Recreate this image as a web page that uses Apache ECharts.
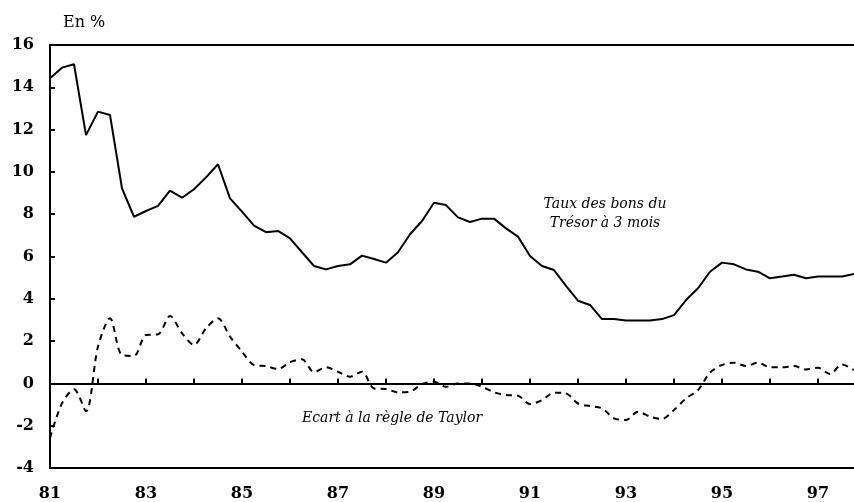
<!DOCTYPE html>
<html>
<head>
<meta charset="utf-8">
<script src="https://cdn.jsdelivr.net/npm/echarts@6/dist/echarts.min.js"></script>
<style>
  html, body { margin: 0; padding: 0; background: #fff; }
  #chartTaylor { width: 854px; height: 502px; }
</style>
</head>
<body>
<div id="chartTaylor"></div>
<script>
// years shown on the axis (one category per quarter)
var years = ['81', '82', '83', '84', '85', '86', '87', '88', '89', '90', '91', '92', '93', '94', '95', '96', '97']
var quarters = []
years.forEach(function (y) {
  for (var q = 1; q <= 4; q++) quarters.push(y + 'T' + q)
})

// taux des bons du Tresor a 3 mois (quarterly, %)
var tauxBons = [
  14.43, 14.93, 15.09, 11.74, 12.85, 12.69, 9.22, 7.88,
  8.15, 8.39, 9.11, 8.78, 9.18, 9.74, 10.36, 8.75,
  8.12, 7.46, 7.15, 7.21, 6.86, 6.20, 5.55, 5.39,
  5.55, 5.63, 6.04, 5.88, 5.71, 6.20, 7.05, 7.68,
  8.54, 8.43, 7.85, 7.63, 7.79, 7.79, 7.33, 6.94,
  6.02, 5.55, 5.36, 4.61, 3.91, 3.71, 3.04, 3.04,
  2.97, 2.97, 2.97, 3.04, 3.23, 3.94, 4.50, 5.28,
  5.71, 5.63, 5.39, 5.28, 4.97, 5.05, 5.14, 4.97,
  5.05, 5.05, 5.05, 5.17
]

// ecart a la regle de Taylor (quarterly, points)
var ecartTaylor = [
  -2.58, -0.94, -0.28, -1.31, 1.74, 3.08, 1.34, 1.30,
  2.29, 2.32, 3.19, 2.37, 1.82, 2.60, 3.08, 2.21,
  1.50, 0.87, 0.82, 0.68, 1.00, 1.14, 0.53, 0.76,
  0.55, 0.32, 0.55, -0.24, -0.27, -0.42, -0.39, -0.03,
  0.08, -0.16, 0.00, 0.00, -0.16, -0.42, -0.55, -0.58,
  -0.98, -0.79, -0.44, -0.47, -0.95, -1.07, -1.18, -1.65,
  -1.73, -1.34, -1.57, -1.68, -1.26, -0.71, -0.32, 0.51,
  0.87, 0.98, 0.82, 0.98, 0.76, 0.76, 0.82, 0.66,
  0.74, 0.44, 0.90, 0.63
]

var serif = 'DejaVu Serif'

var chartEl = document.getElementById('chartTaylor')
var chart = echarts.init(chartEl)

var option = {
  animation: false,
  backgroundColor: '#fff',
  grid: { left: 50, right: 0, top: 45, bottom: 34 },
  xAxis: [
    {
      // zero line with yearly ticks
      type: 'category',
      data: quarters,
      boundaryGap: false,
      axisLine: { onZero: true, lineStyle: { color: '#000', width: 2 } },
      axisTick: { show: true, inside: true, length: 5, interval: 3, lineStyle: { color: '#000', width: 2 } },
      axisLabel: { show: false },
      splitLine: { show: false }
    },
    {
      // bottom frame and year labels
      type: 'category',
      data: quarters,
      boundaryGap: false,
      position: 'bottom',
      axisLine: { onZero: false, lineStyle: { color: '#000', width: 2 } },
      axisTick: { show: false },
      axisLabel: {
        interval: 7,
        margin: 18,
        color: '#000',
        fontFamily: serif,
        fontWeight: 'bold',
        fontSize: 16,
        formatter: function (v) { return v.slice(0, 2) }
      },
      splitLine: { show: false }
    },
    {
      // top frame
      type: 'category',
      data: quarters,
      boundaryGap: false,
      position: 'top',
      axisLine: { onZero: false, lineStyle: { color: '#000', width: 2 } },
      axisTick: { show: false },
      axisLabel: { show: false },
      splitLine: { show: false }
    }
  ],
  yAxis: {
    type: 'value',
    min: -4,
    max: 16,
    interval: 2,
    axisLine: { show: true, lineStyle: { color: '#000', width: 2 } },
    axisTick: { show: true, inside: true, length: 5, lineStyle: { color: '#000', width: 2 } },
    axisLabel: {
      margin: 16,
      color: '#000',
      fontFamily: serif,
      fontWeight: 'bold',
      fontSize: 16
    },
    splitLine: { show: false }
  },
  graphic: [
    {
      type: 'text', left: 63, top: 15,
      style: { text: 'En %', font: '16px "DejaVu Serif"', fill: '#000' }
    },
    {
      type: 'text', x: 605, y: 195,
      style: {
        text: 'Taux des bons du\nTrésor à 3 mois',
        font: 'italic 14px "DejaVu Serif"',
        fill: '#000',
        align: 'center',
        lineHeight: 19
      }
    },
    {
      type: 'text', left: 302, top: 411,
      style: { text: 'Ecart à la règle de Taylor', font: 'italic 14px "DejaVu Serif"', fill: '#000' }
    }
  ],
  series: [
    {
      name: 'Taux des bons du Trésor à 3 mois',
      type: 'line',
      xAxisIndex: 0,
      data: tauxBons,
      symbol: 'none',
      lineStyle: { color: '#000', width: 2 }
    },
    {
      name: 'Ecart à la règle de Taylor',
      type: 'line',
      xAxisIndex: 0,
      data: ecartTaylor,
      symbol: 'none',
      smooth: 0.3,
      lineStyle: { color: '#000', width: 2, type: [6, 5] }
    }
  ]
}

chart.setOption(option, true)
</script>
</body>
</html>
